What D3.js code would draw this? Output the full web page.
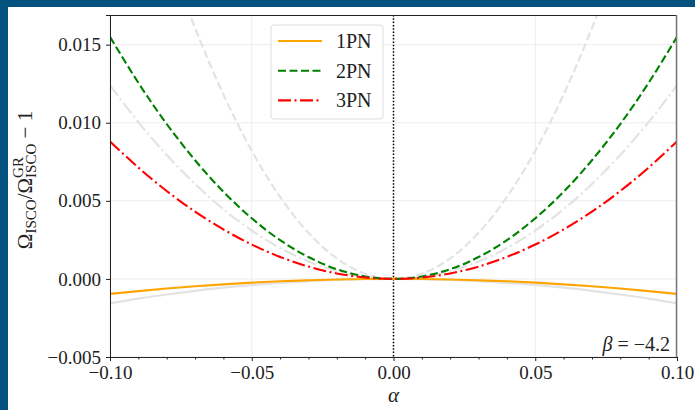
<!DOCTYPE html>
<html>
<head>
<meta charset="utf-8">
<script src="https://cdn.jsdelivr.net/npm/d3@7"></script>
<style>
  body { margin: 0; background: #ffffff; }
  #chart { width: 695px; height: 410px; }
  text { font-family: "Liberation Serif", "DejaVu Serif", serif; fill: #222; }
</style>
</head>
<body>
<div id="chart"></div>
<script>
// alpha samples and values
const alphas = [-0.10, -0.09, -0.08, -0.07, -0.06, -0.05, -0.04, -0.03, -0.02, -0.01, 0.00,
                 0.01, 0.02, 0.03, 0.04, 0.05, 0.06, 0.07, 0.08, 0.09, 0.10];

const pn1 = [-0.00096, -0.00078, -0.00061, -0.00047, -0.00035, -0.00024, -0.00015, -0.00009, -0.00004, -0.00001, 0,
             -0.00001, -0.00004, -0.00009, -0.00015, -0.00024, -0.00035, -0.00047, -0.00061, -0.00078, -0.00096];
const pn2 = [0.0155, 0.01256, 0.00992, 0.0076, 0.00558, 0.00388, 0.00248, 0.0014, 0.00062, 0.00016, 0,
             0.00016, 0.00062, 0.0014, 0.00248, 0.00388, 0.00558, 0.0076, 0.00992, 0.01256, 0.0155];
const pn3 = [0.0088, 0.00713, 0.00563, 0.00431, 0.00317, 0.0022, 0.00141, 0.00079, 0.00035, 0.00009, 0,
             0.00009, 0.00035, 0.00079, 0.00141, 0.0022, 0.00317, 0.00431, 0.00563, 0.00713, 0.0088];

// faint gray reference curves
const gray1 = [-0.00156, -0.00126, -0.001, -0.00076, -0.00056, -0.00039, -0.00025, -0.00014, -0.00006, -0.00002, 0,
               -0.00002, -0.00006, -0.00014, -0.00025, -0.00039, -0.00056, -0.00076, -0.001, -0.00126, -0.00156];
const gray2 = [0.0328, 0.02657, 0.02099, 0.01607, 0.01181, 0.0082, 0.00525, 0.00295, 0.00131, 0.00033, 0,
               0.00033, 0.00131, 0.00295, 0.00525, 0.0082, 0.01181, 0.01607, 0.02099, 0.02657, 0.0328];
const gray3 = [0.0124, 0.01004, 0.00794, 0.00608, 0.00446, 0.0031, 0.00198, 0.00112, 0.0005, 0.00012, 0,
               0.00012, 0.0005, 0.00112, 0.00198, 0.0031, 0.00446, 0.00608, 0.00794, 0.01004, 0.0124];

const xTicks = [-0.10, -0.05, 0.00, 0.05, 0.10];
const xMinorTicks = [-0.09, -0.08, -0.07, -0.06, -0.04, -0.03, -0.02, -0.01,
                     0.01, 0.02, 0.03, 0.04, 0.06, 0.07, 0.08, 0.09];
const yTicks = [-0.005, 0.000, 0.005, 0.010, 0.015];
const seriesNames = ["1PN", "2PN", "3PN"];

const W = 695, H = 410;
const margin = {top: 15, right: 18, bottom: 53, left: 110};
const width = W - margin.left - margin.right;
const height = H - margin.top - margin.bottom;

const svg = d3.select("#chart").append("svg")
    .attr("width", W)
    .attr("height", H);

// blue frame around the figure
svg.append("rect").attr("x", 0).attr("y", 0).attr("width", W).attr("height", 7).attr("fill", "#03517f");
svg.append("rect").attr("x", 0).attr("y", 0).attr("width", 8).attr("height", H).attr("fill", "#03517f");

const x = d3.scaleLinear().domain([-0.10, 0.10]).range([0, width]);
const y = d3.scaleLinear().domain([-0.005, 0.0169]).range([height, 0]);

const plot = svg.append("g")
    .attr("transform", `translate(${margin.left},${margin.top})`);

plot.append("clipPath").attr("id", "clip")
  .append("rect").attr("width", width).attr("height", height);

// grid
plot.append("g").selectAll("line").data(xTicks).join("line")
    .attr("x1", d => x(d)).attr("x2", d => x(d))
    .attr("y1", 0).attr("y2", height)
    .attr("stroke", "#ececec").attr("stroke-width", 1);
plot.append("g").selectAll("line").data(yTicks).join("line")
    .attr("x1", 0).attr("x2", width)
    .attr("y1", d => y(d)).attr("y2", d => y(d))
    .attr("stroke", "#ececec").attr("stroke-width", 1);

const line = vals => d3.line()
    .x((d, i) => x(alphas[i]))
    .y(d => y(d))
    .curve(d3.curveNatural)(vals);

const curves = plot.append("g").attr("clip-path", "url(#clip)");

const grayStyle = [
  {vals: gray1, dash: null},
  {vals: gray2, dash: "8,3.5"},
  {vals: gray3, dash: "13,3.5,2,3.5"}
];
grayStyle.forEach(s => {
  curves.append("path")
      .attr("d", line(s.vals))
      .attr("fill", "none")
      .attr("stroke", "#e3e3e3")
      .attr("stroke-width", 2.2)
      .attr("stroke-dasharray", s.dash);
});

// vertical dotted line at alpha = 0
curves.append("line")
    .attr("x1", x(0)).attr("x2", x(0))
    .attr("y1", 0).attr("y2", height)
    .attr("stroke", "#000").attr("stroke-width", 1.5)
    .attr("stroke-dasharray", "1.5,1.8");

const styles = [
  {vals: pn1, color: "#ffa500", dash: null},
  {vals: pn2, color: "#008000", dash: "8,3.5"},
  {vals: pn3, color: "#ff0000", dash: "13,3.5,2,3.5"}
];
styles.forEach(s => {
  curves.append("path")
      .attr("d", line(s.vals))
      .attr("fill", "none")
      .attr("stroke", s.color)
      .attr("stroke-width", 2.1)
      .attr("stroke-dasharray", s.dash);
});

// axes
const fmt = d3.format(".2f");
const xAxis = plot.append("g")
    .attr("transform", `translate(0,${height})`)
    .call(d3.axisBottom(x).tickValues(xTicks).tickFormat(d => fmt(d).replace("-", "\u2212")).tickSize(4).tickPadding(5));
plot.append("g")
    .attr("transform", `translate(0,${height})`)
    .call(d3.axisBottom(x).tickValues(xMinorTicks).tickFormat("").tickSize(2.5))
    .call(g => g.select(".domain").remove());
const yAxis = plot.append("g")
    .call(d3.axisLeft(y).tickValues(yTicks).tickFormat(d => d3.format(".3f")(d).replace("-", "\u2212")).tickSize(4).tickPadding(5));

[xAxis, yAxis].forEach(g => {
  g.selectAll("text").attr("font-size", 19).attr("fill", "#222")
      .attr("font-family", "Liberation Serif, DejaVu Serif, serif");
  g.select(".domain").attr("stroke", "#222");
});
plot.selectAll(".tick line").attr("stroke", "#222");

// top and right spines
plot.append("line").attr("x1", 0).attr("x2", width).attr("y1", 0.5).attr("y2", 0.5)
    .attr("stroke", "#222").attr("stroke-width", 1.2);
plot.append("line").attr("x1", width - 0.5).attr("x2", width - 0.5).attr("y1", 0).attr("y2", height)
    .attr("stroke", "#777").attr("stroke-width", 1.5);

// legend
const leg = plot.append("g").attr("transform", "translate(161,10)");
leg.append("rect")
    .attr("width", 112).attr("height", 94).attr("rx", 3)
    .attr("fill", "#fff").attr("stroke", "#dddddd").attr("stroke-width", 1);
seriesNames.forEach((name, i) => {
  const yy = 16 + i * 29.7;
  leg.append("line")
      .attr("x1", 7).attr("x2", 51).attr("y1", yy).attr("y2", yy)
      .attr("stroke", styles[i].color).attr("stroke-width", 2.1)
      .attr("stroke-dasharray", styles[i].dash);
  leg.append("text")
      .attr("x", 65).attr("y", yy + 7)
      .attr("font-size", 20)
      .text(name);
});

// beta annotation
plot.append("text")
    .attr("x", width - 7).attr("y", height - 6)
    .attr("text-anchor", "end")
    .attr("font-size", 20)
    .call(t => {
      t.append("tspan").attr("font-style", "italic").text("\u03b2");
      t.append("tspan").text("\u00a0=\u00a0\u22124.2");
    });

// x label
svg.append("text")
    .attr("x", margin.left + x(0)).attr("y", 402)
    .attr("text-anchor", "middle")
    .attr("font-size", 21).attr("font-style", "italic")
    .text("\u03b1");

// y label built piece by piece so GR sits above ISCO
const ylab = svg.append("g");
const pieces = [
  {t: "\u03a9", s: 21, dy: 0},
  {t: "ISCO", s: 15, dy: 4},
  {t: "/\u03a9", s: 21, dy: 0},
  {t: "GR", s: 15, dy: -9, stack: true},
  {t: "ISCO", s: 15, dy: 4},
  {t: "\u00a0\u2212\u00a01", s: 21, dy: 0}
];
let cx = 0, stackW = 0, stackX = 0;
pieces.forEach(p => {
  const el = ylab.append("text")
      .attr("x", cx).attr("y", p.dy)
      .attr("font-size", p.s)
      .text(p.t);
  const w = el.node().getComputedTextLength();
  if (p.stack) { stackW = w; }
  else { cx += Math.max(w, stackW); stackW = 0; }
});
const total = cx;
ylab.attr("transform", `translate(32,${margin.top + height / 2 + total / 2 - 6}) rotate(-90)`);
</script>
</body>
</html>
